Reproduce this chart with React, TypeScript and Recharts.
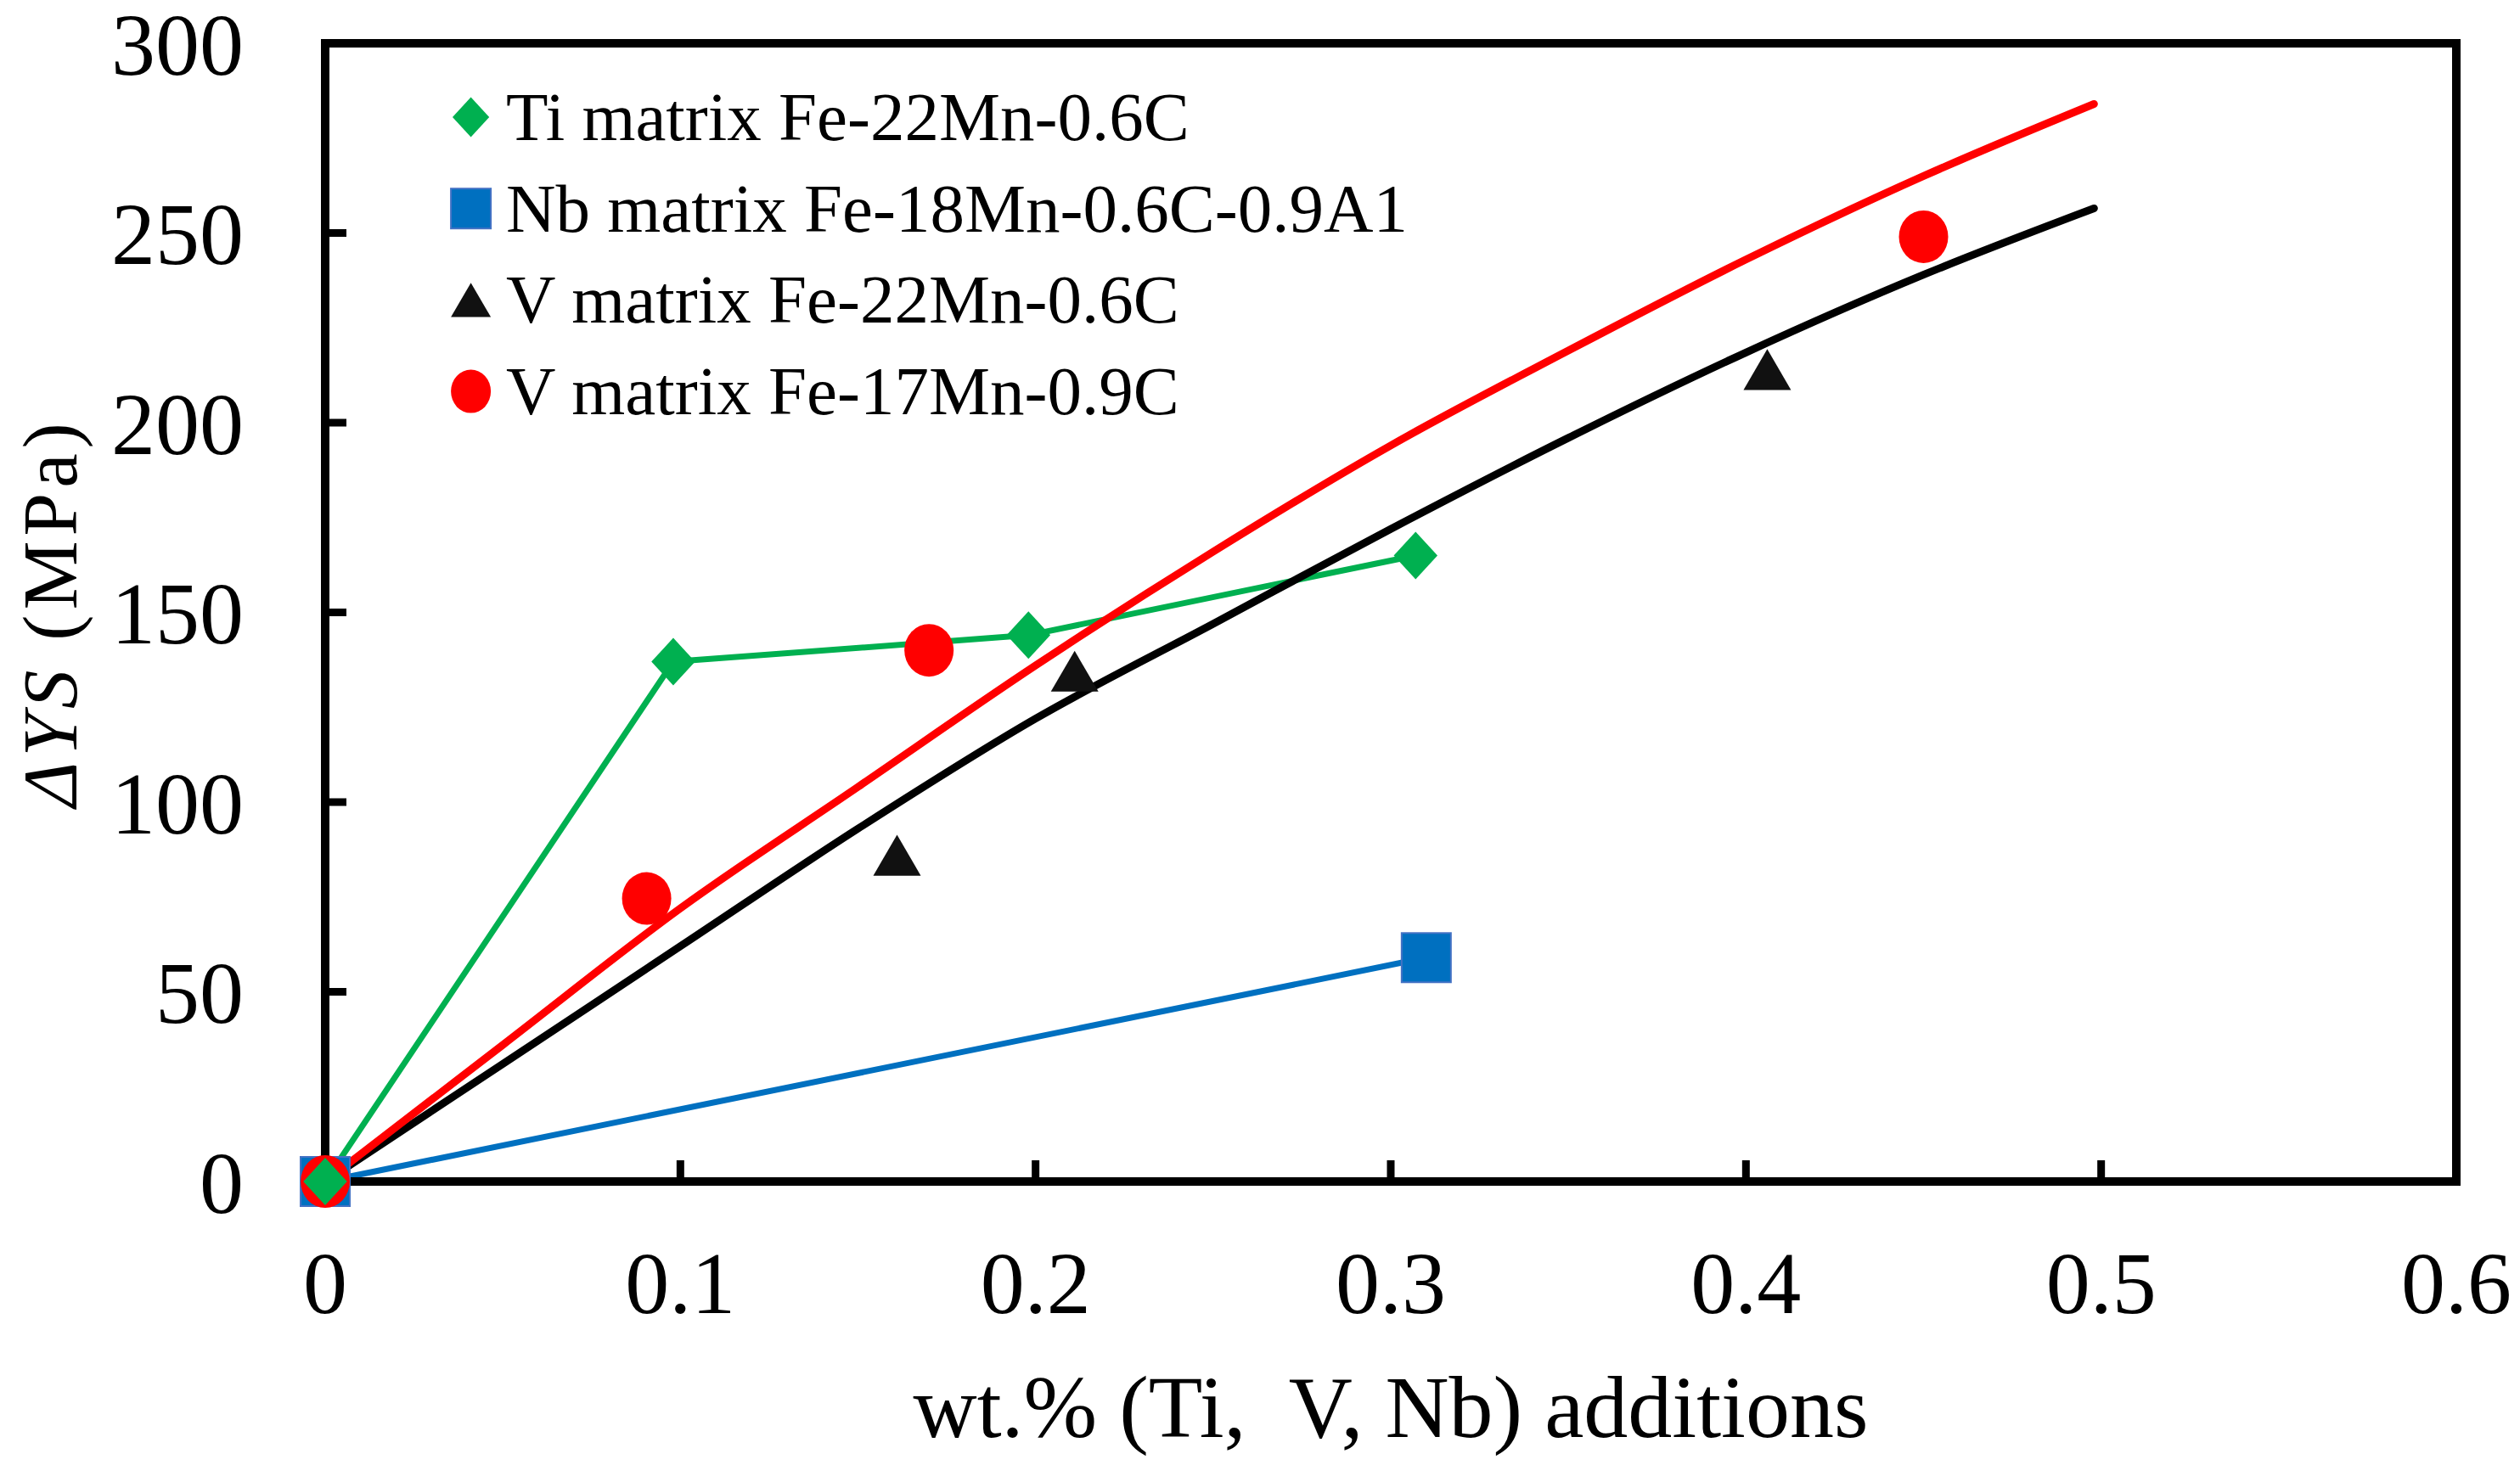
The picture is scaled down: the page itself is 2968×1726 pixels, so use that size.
import React from 'react';
import { ComposedChart, Line, Scatter, XAxis, YAxis, Legend, Label, ReferenceArea } from 'recharts';

// ---- data ----
const xTicks = [0, 0.1, 0.2, 0.3, 0.4, 0.5, 0.6];
const yTicks = [0, 50, 100, 150, 200, 250, 300];

const tiX = [0, 0.098, 0.198, 0.307];
const tiY = [0, 137, 144, 165];

const nbX = [0, 0.31];
const nbY = [0, 59];

const v22X = [0.161, 0.211, 0.406];
const v22Y = [86, 134.5, 214];

const v17X = [0, 0.0905, 0.17, 0.45];
const v17Y = [0, 74.6, 140, 249];

const fitX = [0, 0.05, 0.1, 0.15, 0.2, 0.25, 0.3, 0.35, 0.4, 0.45, 0.498];
const fitV22Y = [0, 31, 62, 93, 122, 147, 172, 196, 218.5, 239, 256.5];
const fitV17Y = [0, 36, 72, 104, 136, 166, 194, 219, 243, 265, 284];

const seriesNames = [
  'Ti matrix Fe-22Mn-0.6C',
  'Nb matrix Fe-18Mn-0.6C-0.9A1',
  'V matrix Fe-22Mn-0.6C',
  'V matrix Fe-17Mn-0.9C',
];

const xTitle = 'wt.% (Ti,  V, Nb) additions';

const toPts = (xs: number[], ys: number[]) => xs.map((x, i) => ({ x, y: ys[i] }));

const tiData = toPts(tiX, tiY);
const nbData = toPts(nbX, nbY);
const v22Data = toPts(v22X, v22Y);
const v17Data = toPts(v17X, v17Y);
const fitV22 = toPts(fitX, fitV22Y);
const fitV17 = toPts(fitX, fitV17Y);

const GREEN = '#00B050';
const BLUE = '#0070C0';
const RED = '#FF0000';
const BLACK = '#000000';
const FONT = "'Liberation Serif', 'Times New Roman', serif";

type Kind = 'diamond' | 'square' | 'triangle' | 'circle';

const kindOf: Record<string, Kind> = {
  [seriesNames[0]]: 'diamond',
  [seriesNames[1]]: 'square',
  [seriesNames[2]]: 'triangle',
  [seriesNames[3]]: 'circle',
};

function Marker({ kind, cx, cy, s }: { kind: Kind; cx: number; cy: number; s: number }) {
  if (cx == null || cy == null || isNaN(cx) || isNaN(cy)) return null;
  if (kind === 'diamond') {
    const w = s * 0.92, h = s;
    return (
      <polygon
        points={`${cx},${cy - h / 2} ${cx + w / 2},${cy} ${cx},${cy + h / 2} ${cx - w / 2},${cy}`}
        fill={GREEN}
      />
    );
  }
  if (kind === 'square') {
    return <rect x={cx - s / 2} y={cy - s / 2} width={s} height={s} fill={BLUE} stroke="#4472C4" strokeWidth={2} />;
  }
  if (kind === 'triangle') {
    const w = s, h = s * 0.86;
    return (
      <polygon
        points={`${cx},${cy - h / 2} ${cx + w / 2},${cy + h / 2} ${cx - w / 2},${cy + h / 2}`}
        fill="#111"
      />
    );
  }
  return <ellipse cx={cx} cy={cy} rx={s / 2} ry={s / 2 + 2} fill={RED} />;
}

const shapeFor = (kind: Kind, s: number) => (p: any) => <Marker kind={kind} cx={p.cx} cy={p.cy} s={s} />;

function LegendContent(props: any) {
  const payload = (props.payload || []).filter((p: any) => seriesNames.includes(p.value));
  payload.sort((a: any, b: any) => seriesNames.indexOf(a.value) - seriesNames.indexOf(b.value));
  const rowH = 107.7;
  return (
    <svg width={1250} height={440} style={{ display: 'block', overflow: 'visible' }}>
      {payload.map((p: any, i: number) => {
        const base = 85 + rowH * i;
        return (
          <g key={p.value}>
            <Marker kind={kindOf[p.value]} cx={54.6} cy={base - 27} s={47} />
            <text x={96} y={base} fontFamily={FONT} fontSize={81} fill="#000">
              {p.value}
            </text>
          </g>
        );
      })}
    </svg>
  );
}

function YTitle(props: any) {
  const vb = props.viewBox || {};
  const cy = vb.y + vb.height / 2;
  return (
    <text
      transform={`translate(${vb.x + 90}, ${cy}) rotate(-90)`}
      textAnchor="middle"
      fontFamily={FONT}
      fontSize={91}
      letterSpacing={6}
      fill="#000"
    >
      <tspan fontStyle="italic">ΔYS</tspan>
      <tspan> (MPa)</tspan>
    </text>
  );
}

function XTitle(props: any) {
  const vb = props.viewBox || {};
  return (
    <text
      x={vb.x + vb.width / 2}
      y={vb.y + 301}
      textAnchor="middle"
      fontFamily={FONT}
      fontSize={104}
      fill="#000"
      style={{ whiteSpace: 'pre' }}
    >
      {xTitle}
    </text>
  );
}

const axisLine = { stroke: '#000', strokeWidth: 10, strokeLinecap: 'square' as const };
const tickLine = { stroke: '#000', strokeWidth: 9 };
const tickStyle = { fontFamily: FONT, fontSize: 104, fill: '#000' };

export default function App() {
  return (
    <div style={{ position: 'absolute', left: 0, top: 0, width: 2968, height: 1726, background: '#fff' }}>
      <ComposedChart width={2968} height={1726} margin={{ top: 51, right: 75, bottom: 0, left: 0 }}>
        <XAxis
          type="number"
          dataKey="x"
          domain={[0, 0.6]}
          ticks={xTicks}
          interval={0}
          height={334}
          tickSize={-25}
          tickMargin={106}
          tick={tickStyle}
          axisLine={axisLine}
          tickLine={tickLine}
        >
          <Label content={<XTitle />} />
        </XAxis>
        <YAxis
          type="number"
          dataKey="y"
          domain={[0, 300]}
          ticks={yTicks}
          interval={0}
          width={383}
          tickSize={-25}
          tickMargin={121}
          tick={tickStyle}
          axisLine={axisLine}
          tickLine={tickLine}
        >
          <Label content={<YTitle />} />
        </YAxis>

        <ReferenceArea
          x1={xTicks[0]}
          x2={xTicks[xTicks.length - 1]}
          y1={yTicks[0]}
          y2={yTicks[yTicks.length - 1]}
          fill="none"
          fillOpacity={0}
          stroke="#000"
          strokeWidth={10}
          strokeOpacity={1}
          ifOverflow="visible"
        />

        <Line data={nbData} dataKey="y" type="linear" stroke={BLUE} strokeWidth={7} dot={false} activeDot={false} legendType="none" isAnimationActive={false} strokeLinecap="round" />
        <Line data={tiData} dataKey="y" type="linear" stroke={GREEN} strokeWidth={7} dot={false} activeDot={false} legendType="none" isAnimationActive={false} strokeLinecap="round" strokeLinejoin="round" />
        <Line data={fitV22} dataKey="y" type="monotone" stroke={BLACK} strokeWidth={9} dot={false} activeDot={false} legendType="none" isAnimationActive={false} strokeLinecap="round" />
        <Line data={fitV17} dataKey="y" type="monotone" stroke={RED} strokeWidth={9} dot={false} activeDot={false} legendType="none" isAnimationActive={false} strokeLinecap="round" />

        <Scatter name={seriesNames[1]} data={nbData} fill={BLUE} shape={shapeFor('square', 58)} isAnimationActive={false} />
        <Scatter name={seriesNames[2]} data={v22Data} fill={BLACK} shape={shapeFor('triangle', 56)} isAnimationActive={false} />
        <Scatter name={seriesNames[3]} data={v17Data} fill={RED} shape={shapeFor('circle', 58)} isAnimationActive={false} />
        <Scatter name={seriesNames[0]} data={tiData} fill={GREEN} shape={shapeFor('diamond', 56)} isAnimationActive={false} />

        <Legend
          layout="vertical"
          align="center"
          verticalAlign="middle"
          content={<LegendContent />}
          wrapperStyle={{ left: 500, top: 80, width: 1250, height: 440 }}
        />
      </ComposedChart>
    </div>
  );
}
